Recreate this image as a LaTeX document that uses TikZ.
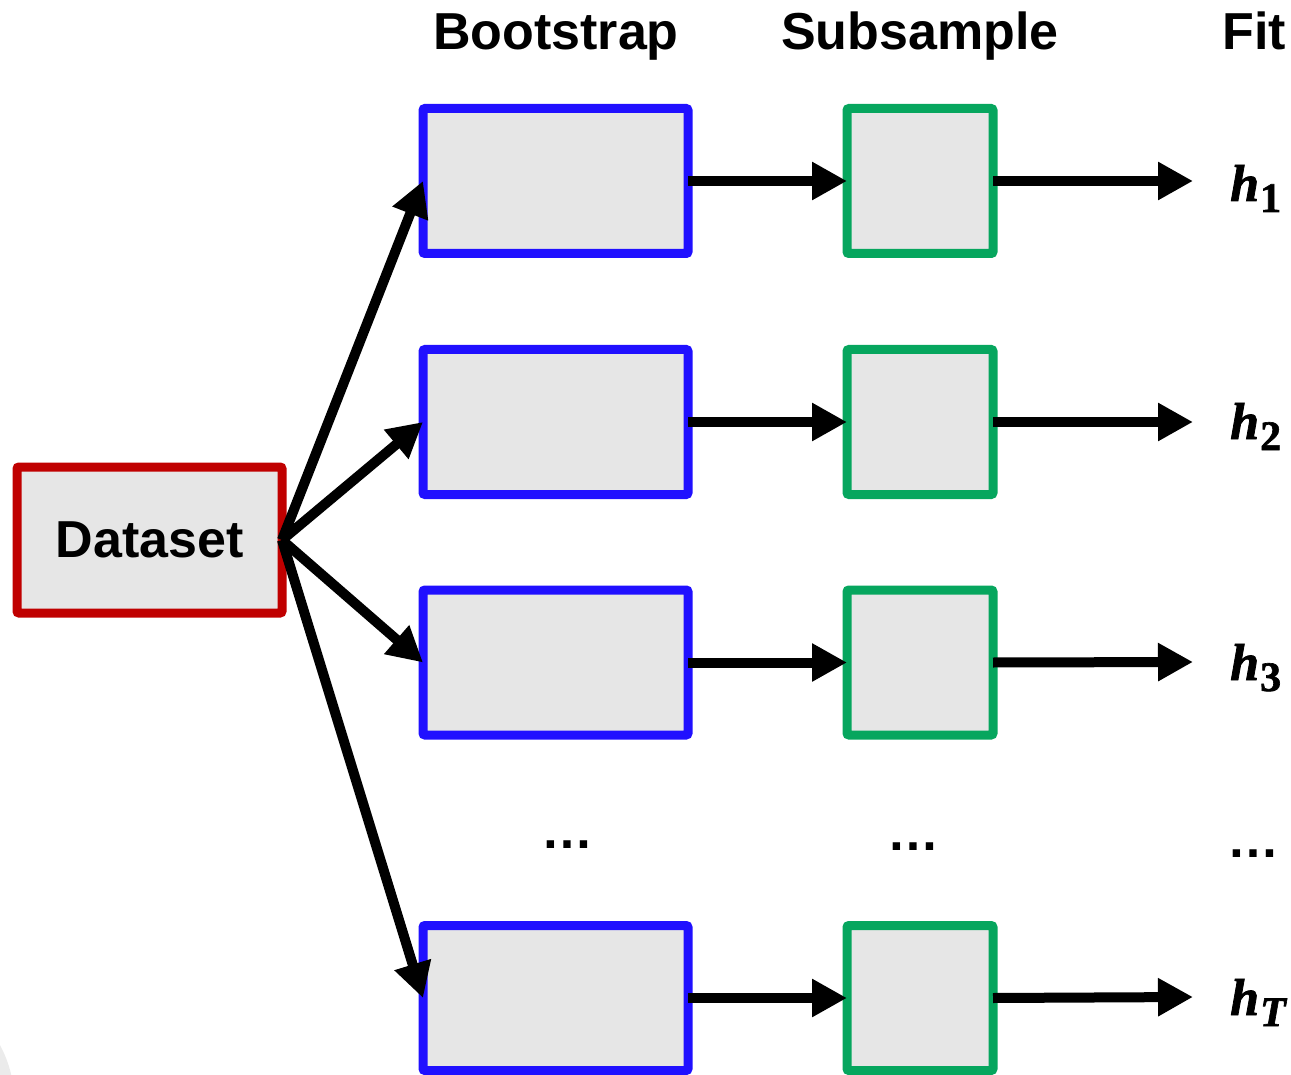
\documentclass[tikz,border=0pt]{standalone}
\usepackage{fontspec}
\setmainfont{Liberation Sans}
\newfontfamily\hfont[FakeBold=1.5]{Liberation Serif}
\usetikzlibrary{arrows.meta}
\definecolor{dsred}{HTML}{C00000}
\definecolor{bsblue}{HTML}{2010FF}
\definecolor{ssgreen}{HTML}{06A65E}
\definecolor{boxgray}{HTML}{E6E6E6}
\definecolor{faint}{HTML}{EBEBEB}
\newcommand{\hlabtext}[2]{{\hfont\bfseries\itshape h}\kern1pt\raisebox{-11pt}{\fontsize{42}{44}\selectfont\hfont\bfseries#2#1}}
\begin{document}
\begin{tikzpicture}[x=1pt,y=-1pt,
  box/.style={draw, line width=9pt, fill=boxgray, rounded corners=2pt, inner sep=0pt, outer sep=0pt},
  dsbox/.style={box, draw=dsred, minimum width=265pt, minimum height=146pt, font=\fontsize{52}{60}\selectfont\bfseries},
  bsbox/.style={box, draw=bsblue, minimum width=265pt, minimum height=145pt},
  ssbox/.style={box, draw=ssgreen, minimum width=146pt, minimum height=145pt},
  arr/.style={line width=10pt, -{Triangle[length=35pt,width=36pt]}},
  hdr/.style={font=\fontsize{52}{60}\selectfont\bfseries, anchor=base, inner sep=0pt},
  dotsl/.style={font=\fontsize{52}{60}\selectfont\bfseries, anchor=base, inner sep=0pt},
  hlab/.style={font=\fontsize{52}{60}\selectfont, anchor=base west, inner sep=0pt},
]
\useasboundingbox (0,0) rectangle (1291,1075);
\begin{scope}
  \clip (0,0) rectangle (1291,1075);
  \fill[faint] (-100,1100) circle (114);
\end{scope}

% headers
\node[hdr] (hb) at (556,50) {Bootstrap};
\node[hdr] (hs) at (920,50) {Subsample};
\node[hdr] (hf) at (1254,50) {Fit};

% dataset
\node[dsbox] (ds) at (149.5,540) {Dataset};

% bootstrap boxes
\node[bsbox] (b1) at (555.5,181) {};
\node[bsbox] (b2) at (555.5,422) {};
\node[bsbox] (b3) at (555.5,662.5) {};
\node[bsbox] (b4) at (555.5,998) {};

% subsample boxes
\node[ssbox] (s1) at (920,181) {};
\node[ssbox] (s2) at (920,422) {};
\node[ssbox] (s3) at (920,662.5) {};
\node[ssbox] (s4) at (920,998) {};

% fit end points
\coordinate (f1) at (1193,181);
\coordinate (f2) at (1193,422);
\coordinate (f3) at (1193,662);
\coordinate (f4) at (1193,997);

% labels
\node[hlab] (h1) at (1230,201) {\hlabtext{1}{}};
\node[hlab] (h2) at (1230,439) {\hlabtext{2}{}};
\node[hlab] (h3) at (1230,680) {\hlabtext{3}{}};
\node[hlab] (hT) at (1230,1015) {\hlabtext{T}{\itshape}};

% dots
\node[dotsl] (d1) at (567,848) {…};
\node[dotsl] (d2) at (913,850) {…};
\node[dotsl] (d3) at (1253,857) {…};

% arrows from dataset
\draw[arr] (ds.east) -- (b1.west);
\draw[arr] (ds.east) -- (b2.west);
\draw[arr] (ds.east) -- (b3.west);
\draw[arr] (ds.east) -- (b4.west);

% bootstrap -> subsample
\draw[arr] (b1.east) -- (s1.west);
\draw[arr] (b2.east) -- (s2.west);
\draw[arr] (b3.east) -- (s3.west);
\draw[arr] (b4.east) -- (s4.west);

% subsample -> fit
\draw[arr] (s1.east) -- (f1);
\draw[arr] (s2.east) -- (f2);
\draw[arr] (s3.east) -- (f3);
\draw[arr] (s4.east) -- (f4);
\end{tikzpicture}
\end{document}
